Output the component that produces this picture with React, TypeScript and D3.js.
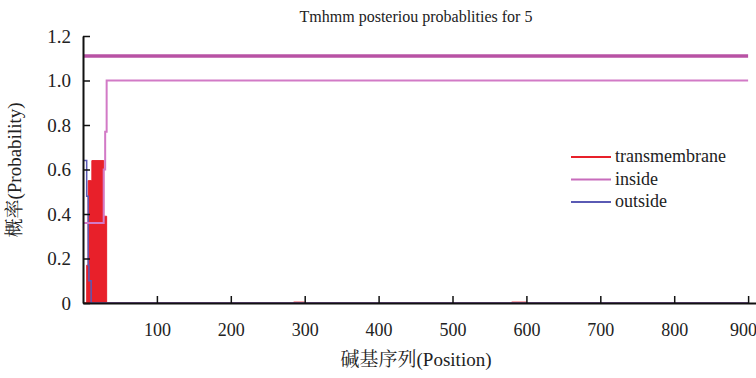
import React, { useEffect, useRef } from "react";
import * as d3 from "d3";

// tick labels
const xTicks = [100, 200, 300, 400, 500, 600, 700, 800, 900];
const yTicks = [0, 0.2, 0.4, 0.6, 0.8, 1.0, 1.2];

// posterior probabilities per position (step values)
const tmPos = [0, 5, 7, 12, 28, 32, 285, 300, 580, 600, 900];
const tmVal = [0, 0.17, 0.55, 0.64, 0.39, 0, 0.004, 0, 0.004, 0, 0];

const inPos = [1, 28, 30, 32, 900];
const inVal = [0.36, 0.6, 0.77, 1.0, 1.0];

const outPos = [1, 5, 7, 8, 11, 900];
const outVal = [0.64, 0.48, 0.17, 0.1, 0, 0];

// predicted topology bar
const topoPos = [1, 900];
const topoVal = [1.11, 1.11];

const legendItems = [
  { name: "transmembrane", color: "#e8202a" },
  { name: "inside", color: "#c86cbc" },
  { name: "outside", color: "#5a5ab4" },
];

const latin = "'Times New Roman', 'Liberation Serif', serif";
const cjk = "'Noto Serif CJK SC', 'Noto Sans CJK SC', serif";

const App = () => {
  const svgRef = useRef(null);

  useEffect(() => {
    const svg = d3.select(svgRef.current);
    svg.selectAll("*").remove();

    const x = d3.scaleLinear().domain([0, 910]).range([83, 755.5]);
    const y = d3.scaleLinear().domain([0, 1.2]).range([303, 36]);

    const zip = (p, v) => p.map((d, i) => [d, v[i]]);

    // transmembrane filled area
    const area = d3
      .area()
      .x((d) => x(d[0]))
      .y0(y(0))
      .y1((d) => y(d[1]))
      .curve(d3.curveStepAfter);
    svg
      .append("path")
      .datum(zip(tmPos, tmVal))
      .attr("fill", "#e8202a")
      .attr("stroke", "#e8202a")
      .attr("stroke-width", 1)
      .attr("d", area);

    const line = d3
      .line()
      .x((d) => x(d[0]))
      .y((d) => y(d[1]))
      .curve(d3.curveStepAfter);

    svg
      .append("path")
      .datum(zip(outPos, outVal))
      .attr("fill", "none")
      .attr("stroke", "#5a5ab4")
      .attr("stroke-width", 1.5)
      .attr("d", line);

    svg
      .append("path")
      .datum(zip(inPos, inVal))
      .attr("fill", "none")
      .attr("stroke", "#d27ac6")
      .attr("stroke-width", 2)
      .attr("d", line);

    svg
      .append("path")
      .datum(zip(topoPos, topoVal))
      .attr("fill", "none")
      .attr("stroke", "#b852a4")
      .attr("stroke-width", 3.5)
      .attr("d", line);

    // axes
    const xAxis = svg
      .append("g")
      .attr("transform", `translate(0,${y(0)})`)
      .call(
        d3
          .axisBottom(x)
          .tickValues(xTicks)
          .tickSizeInner(-7)
          .tickSizeOuter(0)
          .tickPadding(20)
      );
    xAxis.attr("font-family", null);
    xAxis.select(".domain").attr("stroke", "#111").attr("stroke-width", 2);
    xAxis.selectAll(".tick line").attr("stroke", "#111").attr("stroke-width", 1.5);
    xAxis
      .selectAll("text")
      .style("font-family", latin)
      .style("font-size", "18px")
      .attr("fill", "#222")
      .attr("dx", (d) => (d === 900 ? -5 : 0));

    const yAxis = svg
      .append("g")
      .attr("transform", `translate(${x(0)},0)`)
      .call(
        d3
          .axisLeft(y)
          .tickValues(yTicks)
          .tickFormat((d) => (d === 0 ? "0" : d3.format(".1f")(d)))
          .tickSizeInner(-7)
          .tickSizeOuter(0)
          .tickPadding(12)
      );
    yAxis.attr("font-family", null);
    yAxis.select(".domain").attr("stroke", "#111").attr("stroke-width", 2);
    yAxis.selectAll(".tick line").attr("stroke", "#111").attr("stroke-width", 1.5);
    yAxis
      .selectAll("text")
      .style("font-family", latin)
      .style("font-size", "19px")
      .attr("fill", "#222");

    // title & labels
    svg
      .append("text")
      .attr("x", 416)
      .attr("y", 22)
      .attr("text-anchor", "middle")
      .style("font-family", latin)
      .style("font-size", "16px")
      .attr("fill", "#222")
      .text("Tmhmm posteriou probablities for 5");

    const xLabel = svg
      .append("text")
      .attr("x", 416)
      .attr("y", 366)
      .attr("text-anchor", "middle")
      .style("font-size", "19px")
      .attr("fill", "#222");
    xLabel.append("tspan").style("font-family", cjk).text("碱基序列");
    xLabel.append("tspan").style("font-family", latin).text("(Position)");

    const yLabel = svg
      .append("text")
      .attr("transform", "translate(21,170) rotate(-90)")
      .attr("text-anchor", "middle")
      .style("font-size", "19px")
      .attr("fill", "#222");
    yLabel.append("tspan").style("font-family", cjk).text("概率");
    yLabel.append("tspan").style("font-family", latin).text("(Probability)");

    // legend
    const legend = svg.append("g").attr("transform", "translate(571,157)");
    legendItems.forEach((d, i) => {
      legend
        .append("line")
        .attr("x1", 0)
        .attr("x2", 40)
        .attr("y1", i * 22.5)
        .attr("y2", i * 22.5)
        .attr("stroke", d.color)
        .attr("stroke-width", 2);
      legend
        .append("text")
        .attr("x", 44)
        .attr("y", i * 22.5 + 5)
        .style("font-family", latin)
        .style("font-size", "18px")
        .attr("fill", "#222")
        .text(d.name);
    });
  }, []);

  return (
    <div style={{ position: "absolute", left: 0, top: 0 }}>
      <svg ref={svgRef} width={756} height={378} style={{ display: "block", background: "#fff" }} />
    </div>
  );
};

export default App;
